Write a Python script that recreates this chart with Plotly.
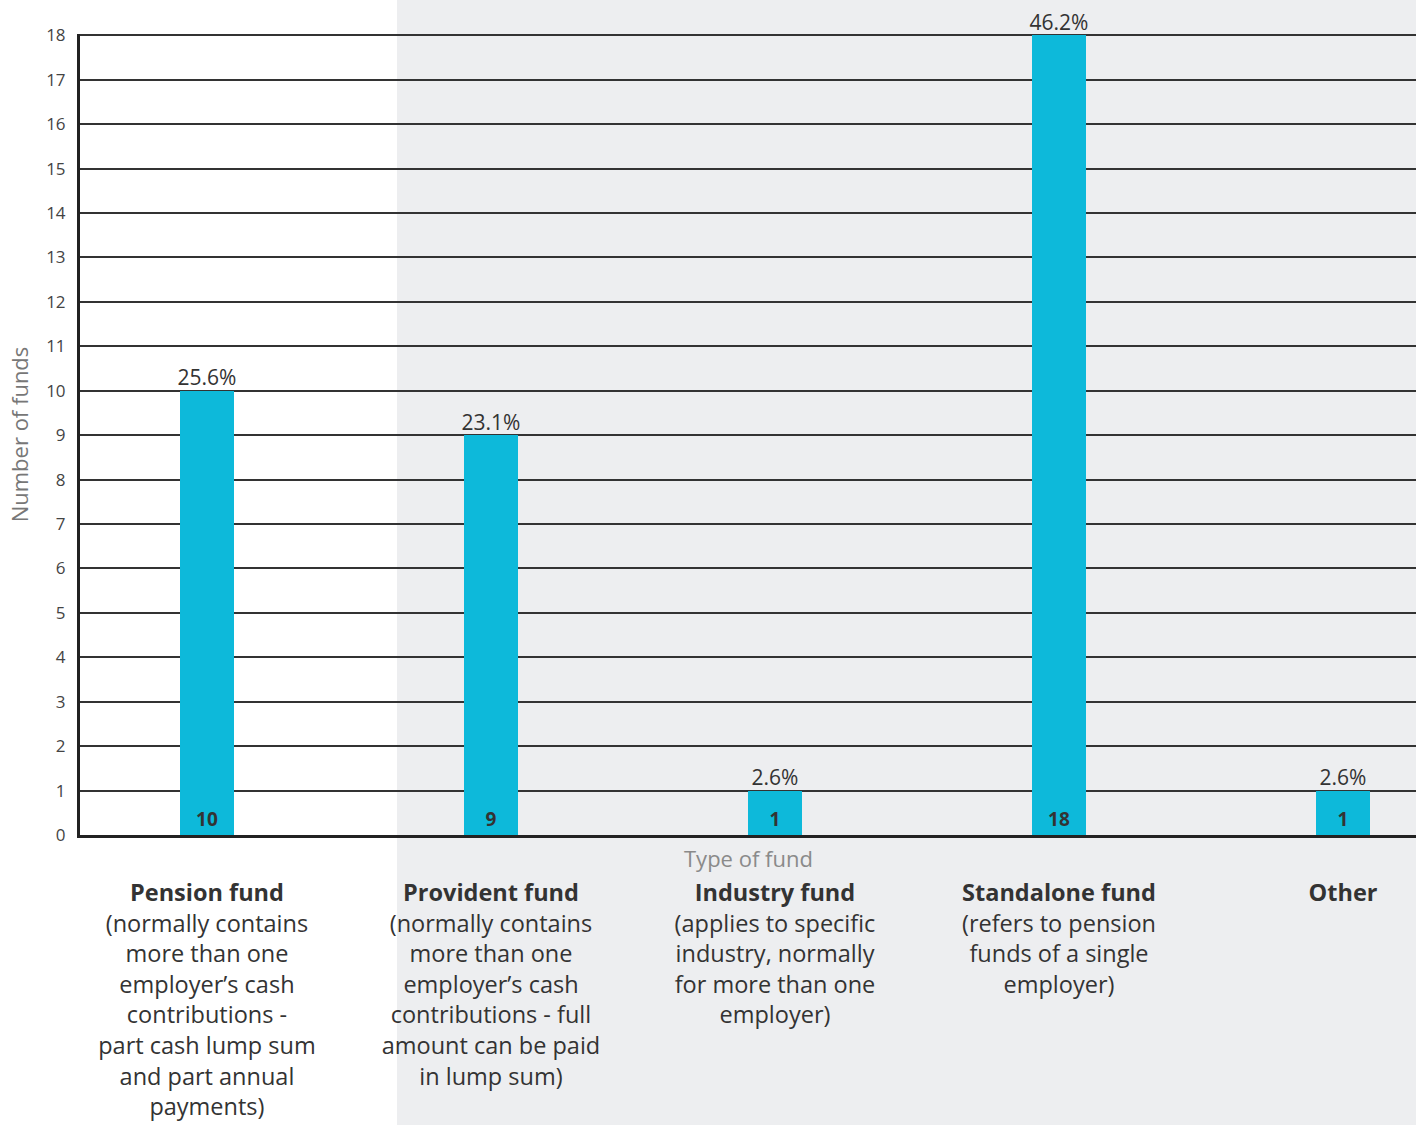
import plotly.graph_objects as go

categories = ["Pension fund", "Provident fund", "Industry fund", "Standalone fund", "Other"]
descriptions = [
    ["(normally contains", "more than one", "employer’s cash", "contributions -", "part cash lump sum", "and part annual", "payments)"],
    ["(normally contains", "more than one", "employer’s cash", "contributions - full", "amount can be paid", "in lump sum)"],
    ["(applies to specific", "industry, normally", "for more than one", "employer)"],
    ["(refers to pension", "funds of a single", "employer)"],
    [],
]
counts = [10, 9, 1, 18, 1]
percents = ["25.6%", "23.1%", "2.6%", "46.2%", "2.6%"]
y_ticks = list(range(0, 19))

FONT = "Open Sans"
BAR = "#0DB9DA"
BAND = "#EDEEF0"

ticktext = []
for c, d in zip(categories, descriptions):
    ticktext.append("<br>".join(["<b>" + c + "</b>"] + d))

x = list(range(len(categories)))

fig = go.Figure()
fig.add_trace(go.Bar(
    x=x, y=counts, width=0.19, marker=dict(color=BAR, line=dict(width=0)),
    text=[f"<b>{v}</b>" for v in counts], textposition="inside",
    insidetextanchor="start", textangle=0,
    textfont=dict(family=FONT, size=19, color="#333333"),
    hoverinfo="skip", showlegend=False,
))
fig.add_trace(go.Scatter(
    x=x, y=counts, mode="text", text=percents, textposition="top center",
    textfont=dict(family=FONT, size=21, color="#333333"),
    hoverinfo="skip", showlegend=False, cliponaxis=False,
))

fig.add_shape(type="rect", xref="paper", yref="paper",
              x0=(397 - 80) / 1336, x1=1.05, y0=-0.5, y1=1.1,
              fillcolor=BAND, line=dict(width=0), layer="below")

fig.add_annotation(text="Type of fund", xref="paper", yref="paper",
                   x=0.5, y=0, yanchor="middle", yshift=-23, showarrow=False,
                   font=dict(family=FONT, size=22, color="#8A8A8A"))

fig.update_layout(
    width=1416, height=1125,
    margin=dict(l=80, r=0, t=34, b=290),
    paper_bgcolor="white", plot_bgcolor="rgba(0,0,0,0)",
    font=dict(family=FONT),
    bargap=0,
)
fig.update_xaxes(
    range=[-0.447, 4.257], tickmode="array", tickvals=x, ticktext=ticktext,
    ticks="outside", ticklen=35, tickcolor="rgba(0,0,0,0)",
    tickfont=dict(family=FONT, size=23.5, color="#333333"),
    showline=True, linecolor="#222222", linewidth=3, showgrid=False,
    zeroline=False, fixedrange=True, automargin=False,
)
fig.update_yaxes(
    range=[0, 18.03], tickmode="array", tickvals=y_ticks,
    ticks="", tickfont=dict(family=FONT, size=17, color="#444444"),
    ticklabelstandoff=8,
    showline=True, linecolor="#222222", linewidth=3,
    showgrid=True, gridcolor="#333333", gridwidth=1.5, zeroline=False,
    title=dict(text="Number of funds", font=dict(family=FONT, size=22, color="#777777"), standoff=12),
    fixedrange=True, automargin=False,
)

fig.write_html("out.html")
